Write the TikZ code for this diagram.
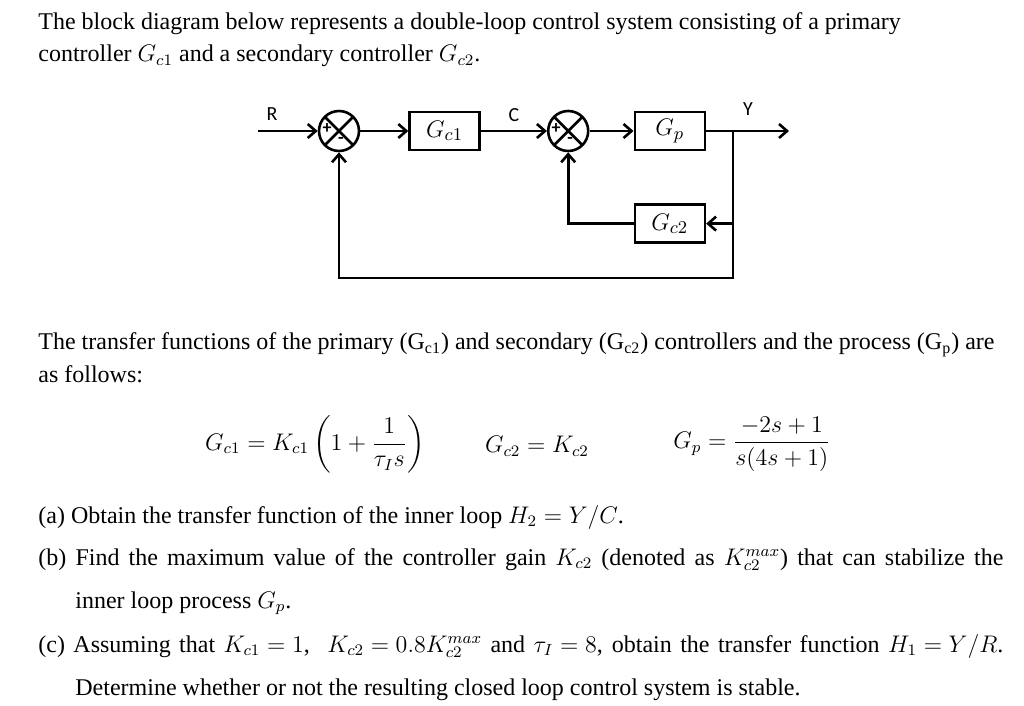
\documentclass[tikz,border=0pt]{standalone}
\usepackage{amsmath}
\usepackage{fontspec}
\setmainfont{Liberation Serif}
\newfontfamily\labelfont{Carlito}
\usetikzlibrary{positioning, arrows.meta}
\newcommand\fixedmathspace{\thickmuskip=5mu\relax\medmuskip=4mu\relax}

\begin{document}
\begin{tikzpicture}[
    x=0.5pt, y=-0.5pt,
    node distance=24pt,
    block/.style={rectangle, draw=black, line width=1.3pt, minimum width=35pt, minimum height=19pt, inner sep=0pt, font=\fontsize{12.5}{14}\selectfont},
    sumjunc/.style={circle, draw=black, line width=1.3pt, minimum size=20pt, inner sep=0pt,
        path picture={\draw[line width=1.3pt] (path picture bounding box.north west) -- (path picture bounding box.south east)
            (path picture bounding box.north east) -- (path picture bounding box.south west);}},
    sign/.style={font=\labelfont\bfseries\fontsize{9}{9}\selectfont, inner sep=0pt},
    sig/.style={font=\labelfont\fontsize{10}{10}\selectfont, inner sep=0pt},
    arrow/.style={line width=1.3pt, -{Straight Barb[length=4pt, width=7pt]}},
    txt/.style={anchor=base west, inner sep=0pt, font=\fontsize{12}{14}\selectfont\fixedmathspace},
    eq/.style={inner sep=0pt, font=\fontsize{11.5}{14}\selectfont}
]
\useasboundingbox (0,0) rectangle (1024,706);

% question text
\node[txt] (intro1) at (38,30) {The block diagram below represents a double-loop control system consisting of a primary};
\node[txt] (intro2) at (38,62) {controller $G_{c1}$ and a secondary controller $G_{c2}$.};

% block diagram
\node[sumjunc] (sum1) at (339,131) {};
\node[block, right=24pt of sum1] (gc1) {$G_{c1}$};
\node[sumjunc, right=33pt of gc1] (sum2) {};
\node[block, right=22pt of sum2] (gp) {$G_p$};
\node[block, below=26pt of gp] (gc2) {$G_{c2}$};
\node[sign] (plus1) at ([xshift=-6pt, yshift=1pt]sum1.center) {+};
\node[sign] (minus1) at ([xshift=1pt, yshift=-4.5pt]sum1.center) {-};
\node[sign] (plus2) at ([xshift=-6pt, yshift=1pt]sum2.center) {+};
\node[sign] (minus2) at ([xshift=1pt, yshift=-4.5pt]sum2.center) {-};

\coordinate (input) at (258,131);
\coordinate (output) at (789,131);
\coordinate (branch) at (733,131);
\coordinate (bottom) at (733,278);

\node[sig] (lblR) at (272,114) {R};
\node[sig] (lblC) at (514,115) {C};
\node[sig] (lblY) at (748,109) {Y};

\draw [arrow] (input) -- (sum1);
\draw [arrow] (sum1) -- (gc1);
\draw [arrow] (gc1) -- (sum2);
\draw [arrow] (sum2) -- (gp);
\draw [arrow] (gp) -- (output);
\draw [arrow] (branch) |- (gc2);
\draw [arrow] (gc2) -| (sum2);
\draw [arrow] (branch) -- (bottom) -| (sum1);

% transfer functions
\node[txt] (tf1) at (38,350) {The transfer functions of the primary (G\textsubscript{c1}) and secondary (G\textsubscript{c2}) controllers and the process (G\textsubscript{p}) are};
\node[txt] (tf2) at (38,382) {as follows:};

\node[eq] (eqgc1) at (315,444) {$\displaystyle G_{c1} = K_{c1}\left(1+\frac{1}{\tau_I s}\right)$};
\node[eq] (eqgc2) at (537,446) {$\displaystyle G_{c2} = K_{c2}$};
\node[eq] (eqgp) at (752,444) {$\displaystyle G_p = \frac{-2s+1}{s(4s+1)}$};

% parts
\node[txt] (parta) at (38,523) {(a) Obtain the transfer function of the inner loop $H_2 = Y/C$.};
\node[txt] (partb) at (38,565) {\makebox[482.5pt][s]{(b) Find the maximum value of the controller gain $K_{c2}$ (denoted as $K_{c2}^{max}$) that can stabilize the}};
\node[txt] (partb2) at (75,608) {inner loop process $G_p$.};
\node[txt] (partc) at (38,652) {\makebox[482.5pt][s]{(c) Assuming that $K_{c1} = 1$, \ $K_{c2} = 0.8K_{c2}^{max}$ and $\tau_I = 8$, obtain the transfer function $H_1 = Y/R$.}};
\node[txt] (partc2) at (75,695) {Determine whether or not the resulting closed loop control system is stable.};

\end{tikzpicture}
\end{document}
